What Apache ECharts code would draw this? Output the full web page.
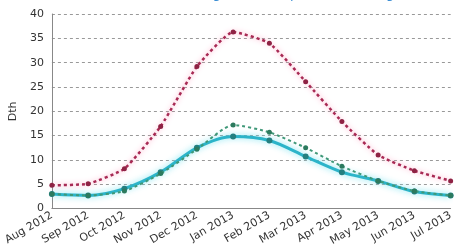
<!DOCTYPE html>
<html>
<head>
<meta charset="utf-8">
<script src="https://cdn.jsdelivr.net/npm/echarts@6/dist/echarts.min.js"></script>
<style>
  html, body { margin: 0; padding: 0; background: #fff; }
  #chart { width: 456px; height: 248px; }
</style>
</head>
<body>
<div id="chart"></div>
<script>
// months on the x axis
const months = ['Aug 2012', 'Sep 2012', 'Oct 2012', 'Nov 2012', 'Dec 2012', 'Jan 2013',
  'Feb 2013', 'Mar 2013', 'Apr 2013', 'May 2013', 'Jun 2013', 'Jul 2013']

// series values (Dth)
const redValues = [4.8, 5.1, 8.2, 16.9, 29.2, 36.3, 34.0, 26.1, 17.9, 11.0, 7.8, 5.7]
const greenValues = [3.0, 2.7, 3.6, 7.2, 12.2, 17.2, 15.7, 12.5, 8.7, 5.7, 3.6, 2.7]
const cyanValues = [3.0, 2.7, 4.1, 7.5, 12.5, 14.8, 14.0, 10.7, 7.5, 5.7, 3.5, 2.7]

const yTicks = [0, 5, 10, 15, 20, 25, 30, 35, 40]

const chart = echarts.init(document.getElementById('chart'))

chart.setOption({
  animation: false,
  backgroundColor: '#fff',
  // title sits mostly above the visible area, only descenders show
  title: {
    text: 'Heating Load Compared to Average',
    left: 165,
    top: -17,
    textStyle: { fontSize: 13, fontWeight: 'normal', color: '#3d8fd4', fontFamily: 'DejaVu Sans' },
  },
  grid: { left: 51, right: 1, top: 14, bottom: 39 },
  xAxis: {
    type: 'category',
    data: months,
    boundaryGap: false,
    axisLine: { lineStyle: { color: '#888', width: 1 } },
    axisTick: { show: false },
    axisLabel: {
      rotate: 30,
      interval: 0,
      margin: 6,
      fontSize: 11,
      color: '#333',
      fontFamily: 'DejaVu Sans',
    },
  },
  yAxis: {
    type: 'value',
    min: yTicks[0],
    max: yTicks[yTicks.length - 1],
    interval: 5,
    name: 'Dth',
    nameLocation: 'middle',
    nameGap: 31,
    nameTextStyle: { fontSize: 11, color: '#333', fontFamily: 'DejaVu Sans' },
    axisLine: { show: true, lineStyle: { color: '#888', width: 1 } },
    axisTick: { show: false },
    axisLabel: { fontSize: 11, color: '#333', margin: 8, fontFamily: 'DejaVu Sans' },
    splitLine: { lineStyle: { color: '#999', type: [3, 3], width: 1 } },
  },
  series: [
    {
      name: 'red',
      type: 'line',
      data: redValues,
      smooth: 0.15,
      symbol: 'circle',
      symbolSize: 5,
      itemStyle: { color: '#8e2244' },
      lineStyle: {
        color: '#a82a54',
        width: 2.5,
        type: [3, 3],
        shadowColor: 'rgba(255,140,180,0.9)',
        shadowBlur: 5,
      },
      z: 2,
    },
    {
      name: 'cyan',
      type: 'line',
      data: cyanValues,
      smooth: 0.3,
      symbol: 'circle',
      symbolSize: 6,
      itemStyle: { color: '#237f80' },
      lineStyle: {
        color: '#2cb4c9',
        width: 3,
        shadowColor: 'rgba(110,225,240,0.9)',
        shadowBlur: 6,
      },
      z: 3,
    },
    {
      name: 'green',
      type: 'line',
      data: greenValues,
      smooth: 0.2,
      symbol: 'circle',
      symbolSize: 5,
      itemStyle: { color: '#2c7a5e' },
      lineStyle: {
        color: '#3f9878',
        width: 2,
        type: [3, 3],
      },
      z: 4,
    },
  ],
})
</script>
</body>
</html>
